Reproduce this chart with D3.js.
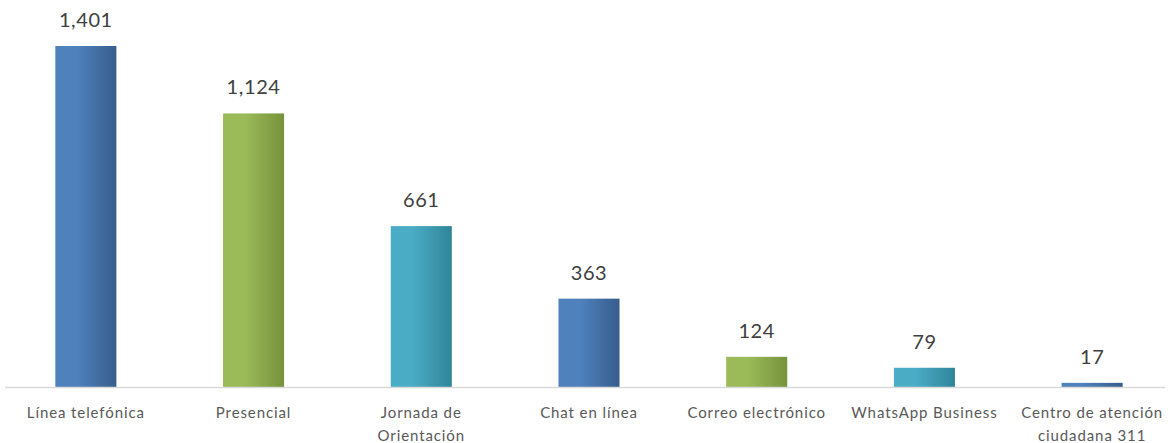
<!DOCTYPE html>
<html>
<head>
<meta charset="utf-8">
<script src="https://cdn.jsdelivr.net/npm/d3@7"></script>
<style>
  body { margin: 0; background: #fff; }
  svg { display: block; font-family: Lato, "Open Sans", sans-serif; }
</style>
</head>
<body>
<svg id="chart" width="1171" height="443"></svg>
<script>
const categories = ['Línea telefónica', 'Presencial', 'Jornada de|Orientación', 'Chat en línea',
  'Correo electrónico', 'WhatsApp Business', 'Centro de atención|ciudadana 311'];
const values = [1401, 1124, 661, 363, 124, 79, 17];
const colorKeys = ['blue', 'green', 'teal', 'blue', 'green', 'teal', 'blue'];

const gradients = {
  blue: ['#4f81bd', '#375d8c'],
  green: ['#9bbb59', '#76923b'],
  teal: ['#4bacc6', '#2f8599']
};

const baseY = 387;
const svg = d3.select('#chart');

const x = d3.scaleBand()
  .domain(categories)
  .range([2, 1176])
  .paddingInner(0.636)
  .paddingOuter(0.318);

const y = d3.scaleLinear()
  .domain([0, 1401])
  .range([baseY, 46]);

const defs = svg.append('defs');
Object.entries(gradients).forEach(([k, c]) => {
  const g = defs.append('linearGradient')
    .attr('id', 'grad-' + k)
    .attr('x1', '0%').attr('x2', '100%')
    .attr('y1', '0%').attr('y2', '0%');
  g.append('stop').attr('offset', '0%').attr('stop-color', c[0]);
  g.append('stop').attr('offset', '35%').attr('stop-color', c[0]);
  g.append('stop').attr('offset', '100%').attr('stop-color', c[1]);
});

svg.selectAll('rect.bar')
  .data(values)
  .join('rect')
  .attr('class', 'bar')
  .attr('x', (d, i) => x(categories[i]))
  .attr('width', x.bandwidth())
  .attr('y', d => y(d))
  .attr('height', d => baseY - y(d))
  .attr('fill', (d, i) => `url(#grad-${colorKeys[i]})`);

// baseline
svg.append('line')
  .attr('x1', 5).attr('x2', 1165)
  .attr('y1', baseY + 0.5).attr('y2', baseY + 0.5)
  .attr('stroke', '#d9d9d9')
  .attr('stroke-width', 1.5);

// value labels
svg.selectAll('text.val')
  .data(values)
  .join('text')
  .attr('class', 'val')
  .attr('x', (d, i) => x(categories[i]) + x.bandwidth() / 2)
  .attr('y', d => y(d) - 19)
  .attr('text-anchor', 'middle')
  .attr('fill', '#404040')
  .style('font-size', '20px')
  .style('letter-spacing', '0.6px')
  .text(d => d3.format(',')(d));

// category labels
const cat = svg.selectAll('text.cat')
  .data(categories)
  .join('text')
  .attr('class', 'cat')
  .attr('x', d => x(d) + x.bandwidth() / 2)
  .attr('y', 418)
  .attr('text-anchor', 'middle')
  .attr('fill', '#595959')
  .style('font-size', '15px')
  .style('letter-spacing', '0.9px');

cat.each((d, i, n) => {
  const t = d3.select(n[i]);
  d.split('|').forEach((line, j) => {
    t.append('tspan')
      .attr('x', x(d) + x.bandwidth() / 2)
      .attr('dy', j === 0 ? 0 : 23)
      .text(line);
  });
});
</script>
</body>
</html>
